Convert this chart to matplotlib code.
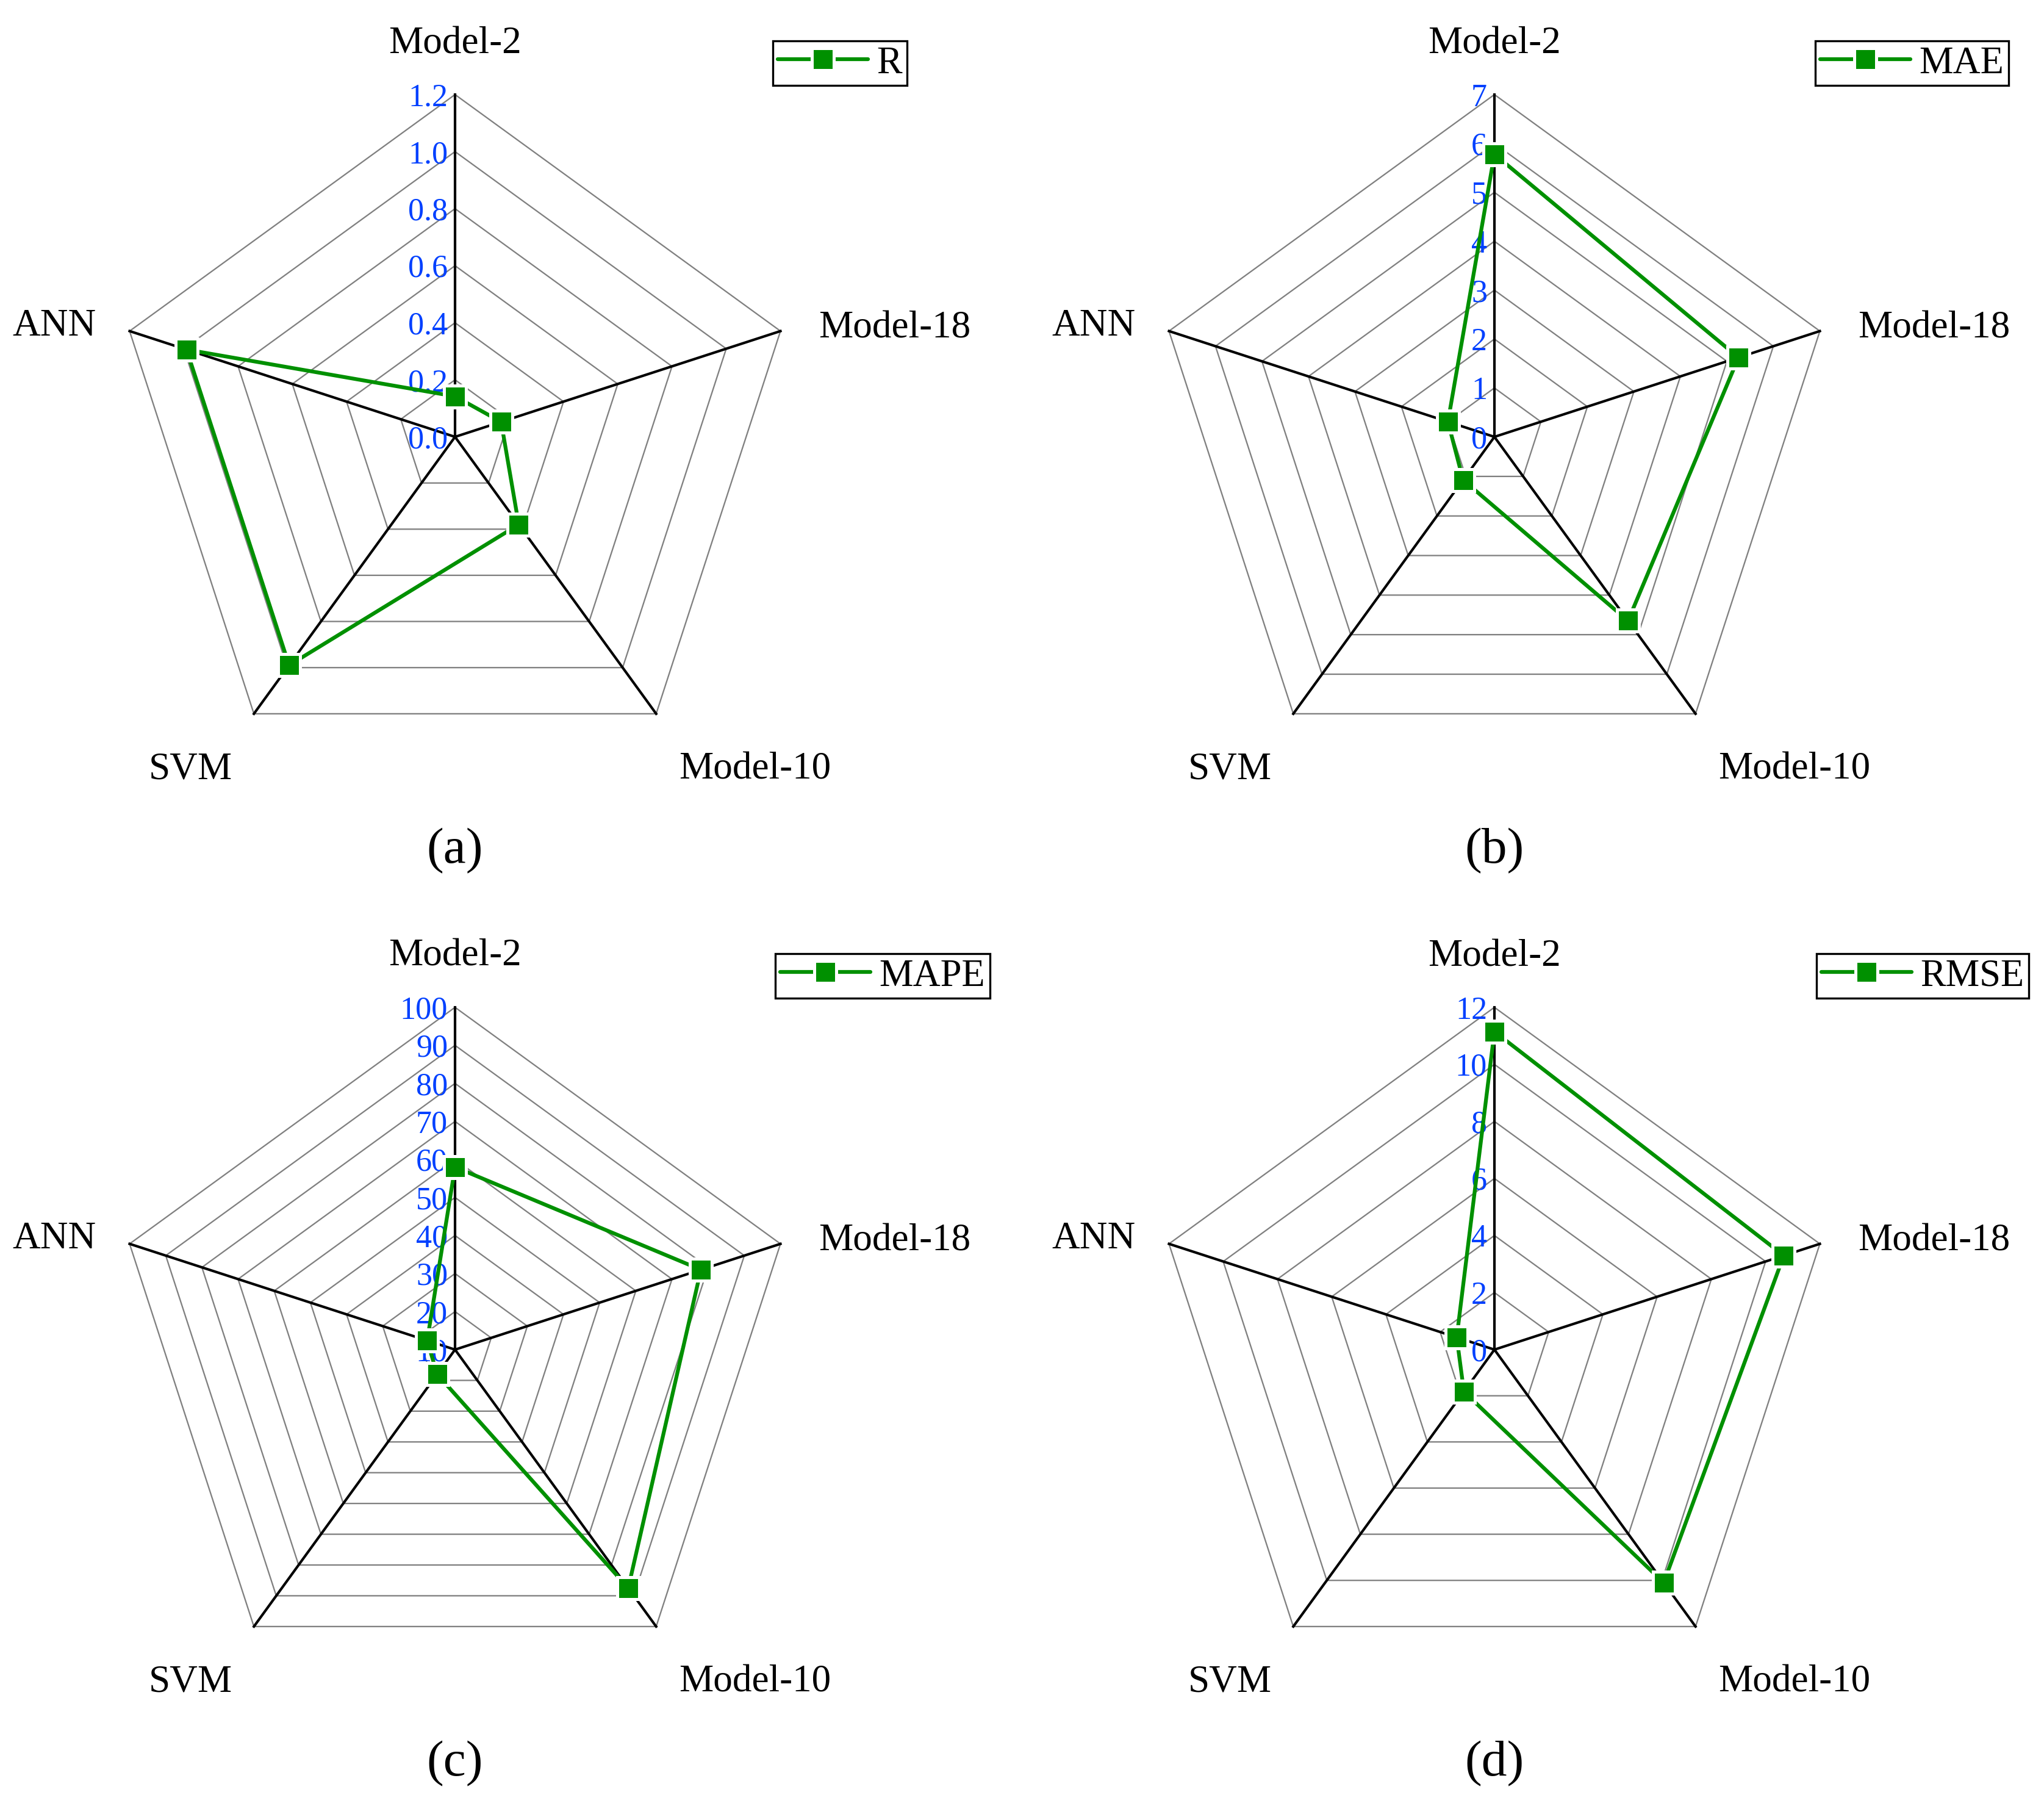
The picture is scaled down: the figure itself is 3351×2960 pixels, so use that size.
import numpy as np
import matplotlib
matplotlib.use('Agg')
import matplotlib.pyplot as plt

# ---------------- data ----------------
categories = ['Model-2', 'Model-18', 'Model-10', 'SVM', 'ANN']

r_values = [0.142, 0.17, 0.38, 0.99, 0.99]
mae_values = [5.78, 5.25, 4.65, 1.09, 1.0]
mape_values = [58, 78, 87.5, 18, 17.7]
rmse_values = [11.15, 10.67, 10.1, 1.82, 1.39]

r_ticks = [0.0, 0.2, 0.4, 0.6, 0.8, 1.0, 1.2]
r_ticklabels = ['0.0', '0.2', '0.4', '0.6', '0.8', '1.0', '1.2']
mae_ticks = [0, 1, 2, 3, 4, 5, 6, 7]
mae_ticklabels = ['0', '1', '2', '3', '4', '5', '6', '7']
mape_ticks = [10, 20, 30, 40, 50, 60, 70, 80, 90, 100]
mape_ticklabels = ['10', '20', '30', '40', '50', '60', '70', '80', '90', '100']
rmse_ticks = [0, 2, 4, 6, 8, 10, 12]
rmse_ticklabels = ['0', '2', '4', '6', '8', '10', '12']

series_names = ['R', 'MAE', 'MAPE', 'RMSE']
panel_letters = ['(a)', '(b)', '(c)', '(d)']

# ---------------- style ----------------
W, H = 3351, 2961
DPI = 300
RADIUS = 561
FONT = ['Liberation Serif', 'DejaVu Serif']
GREEN = '#009000'
BLUE = '#0040ff'
GRAY = '#808080'

plt.rcParams['font.family'] = FONT

fig = plt.figure(figsize=(W / DPI, H / DPI), dpi=DPI)
fig.patch.set_facecolor('white')

panels = [
    dict(vals=r_values, ticks=r_ticks, labels=r_ticklabels, name=series_names[0],
         letter=panel_letters[0], c=(746, 717), leg=(1267, 68)),
    dict(vals=mae_values, ticks=mae_ticks, labels=mae_ticklabels, name=series_names[1],
         letter=panel_letters[1], c=(2450, 717), leg=(2976, 68)),
    dict(vals=mape_values, ticks=mape_ticks, labels=mape_ticklabels, name=series_names[2],
         letter=panel_letters[2], c=(746, 2213), leg=(1271, 1564)),
    dict(vals=rmse_values, ticks=rmse_ticks, labels=rmse_ticklabels, name=series_names[3],
         letter=panel_letters[3], c=(2450, 2213), leg=(2978, 1564)),
]

n = len(categories)
theta = np.arange(n) * 2 * np.pi / n
theta_closed = np.append(theta, theta[0])

px = 72.0 / DPI  # points per pixel

# label offsets (pixels) relative to the outer vertex of each spoke
cat_offsets = {
    'Model-2': ((0, 69), 'center'),
    'Model-18': ((63, -10), 'left'),
    'Model-10': ((37, -106), 'left'),
    'SVM': ((-35, -106), 'right'),
    'ANN': ((-55, -6), 'right'),
}

for p in panels:
    cx, cy = p['c']
    ax = fig.add_axes([(cx - RADIUS) / W, 1 - (cy + RADIUS) / H,
                       2 * RADIUS / W, 2 * RADIUS / H], projection='polar')
    ax.set_theta_offset(np.pi / 2)
    ax.set_theta_direction(-1)
    rmin, rmax = p['ticks'][0], p['ticks'][-1]
    ax.set_ylim(rmin, rmax)
    ax.set_xticks([])
    ax.set_yticks([])
    ax.grid(False)
    ax.spines['polar'].set_visible(False)
    ax.patch.set_visible(False)

    # polygon rings
    for t in p['ticks'][1:]:
        ax.plot(theta_closed, [t] * (n + 1), color=GRAY, lw=0.55, zorder=1,
                clip_on=False)
    # spokes
    for th in theta:
        ax.plot([th, th], [rmin, rmax], color='black', lw=1.0, zorder=1.5,
                clip_on=False)

    # data
    vals = list(p['vals']) + [p['vals'][0]]
    line, = ax.plot(theta_closed, vals, color=GREEN, lw=1.5, marker='s',
                    markersize=8.6, markerfacecolor=GREEN,
                    markeredgecolor='white', markeredgewidth=1.2,
                    solid_capstyle='round', zorder=3, clip_on=False,
                    label=p['name'])

    # radial tick labels along the Model-2 axis
    for t, lab in zip(p['ticks'], p['labels']):
        ax.annotate(lab, xy=(0, t), xycoords='data',
                    xytext=(-12 * px, -4.2), textcoords='offset points',
                    ha='right', va='baseline', color=BLUE, fontsize=12.5,
                    zorder=2.5, annotation_clip=False)

    # category labels
    for th, cat in zip(theta, categories):
        (ox, oy), ha = cat_offsets[cat]
        ax.annotate(cat, xy=(th, rmax), xycoords='data',
                    xytext=(ox * px, oy * px), textcoords='offset points',
                    ha=ha, va='baseline', fontsize=15.2, color='black',
                    annotation_clip=False)

    # panel letter
    fig.text(cx / W, 1 - (cy + 678) / H, p['letter'], ha='center', va='center',
             fontsize=20)

    # legend
    lx, ly = p['leg']
    leg = ax.legend(handles=[line], labels=[p['name']], loc='upper left',
                    bbox_to_anchor=(lx / W, 1 - ly / H),
                    bbox_transform=fig.transFigure, frameon=True,
                    fancybox=False, edgecolor='black', framealpha=1,
                    borderpad=0.12, handlelength=2.37, handletextpad=0.24,
                    borderaxespad=0, numpoints=1, prop={'size': 15})
    leg.get_frame().set_linewidth(0.8)

fig.savefig('out.png', dpi=DPI, facecolor='white')
